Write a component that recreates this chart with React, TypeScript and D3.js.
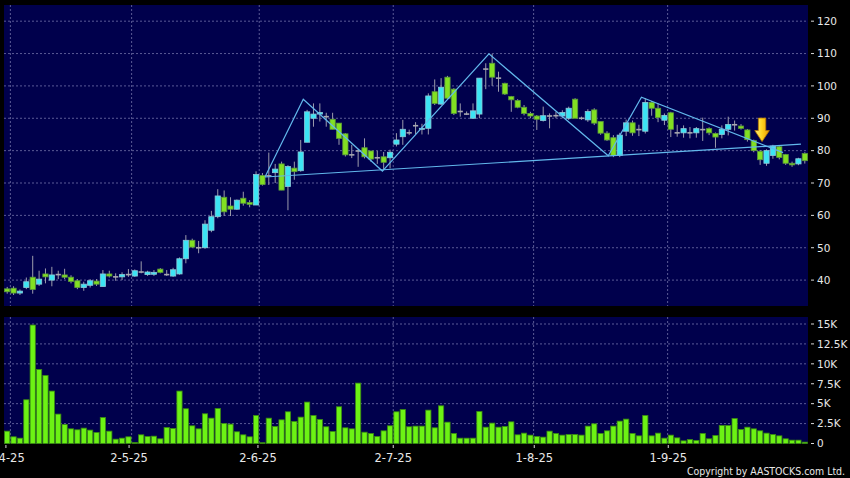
import React from 'react';
import * as d3 from 'd3';

const W = 850;
const H = 478;

// OHLC per trading day (1 .. 126)
const opens = [37.3,37.5,36.0,37.7,40.9,38.75,41.9,40.0,41.7,41.6,40.9,39.8,37.7,38.4,39.7,38.0,41.9,41.0,41.0,41.7,
  41.25,42.5,41.7,41.8,43.4,41.7,41.25,41.9,46.6,52.3,50.0,50.0,55.4,59.6,65.6,62.9,61.9,65.3,64.0,63.2,
  72.3,72.2,73.2,75.9,68.9,74.6,73.8,82.6,90.0,91.3,90.5,89.7,88.5,85.2,78.7,79.9,80.9,79.9,77.8,78.1,
  77.8,82.0,84.3,85.5,87.7,86.6,86.9,98.2,94.4,102.7,99.0,92.1,91.3,90.0,91.3,105.2,107.0,102.4,100.8,96.7,
  95.5,93.4,91.5,90.7,89.3,90.7,90.8,90.7,90.0,95.9,90.0,89.5,92.6,89.0,85.4,84.0,78.5,86.0,88.6,86.5,
  86.0,94.9,93.1,89.4,91.7,85.5,85.5,85.5,85.5,86.5,86.8,85.3,85.0,86.6,88.0,87.6,86.4,83.1,79.8,76.1,
  78.5,81.2,78.8,76.1,75.9,79.1];
const highs = [37.9,38.1,37.1,40.8,47.5,42.9,43.6,44.1,42.9,43.5,41.5,40.3,39.5,40.3,40.3,43.1,42.9,42.1,42.4,43.4,
  43.3,45.8,42.9,43.1,43.7,43.1,43.8,47.0,53.9,52.8,52.1,58.5,61.4,68.1,67.7,65.6,64.9,67.3,64.7,73.6,
  73.1,79.4,75.9,76.6,75.5,76.6,83.3,92.6,94.6,94.6,91.7,91.7,88.5,85.4,81.8,80.4,83.8,79.9,79.9,79.6,
  80.3,85.4,89.5,86.5,88.8,88.3,97.7,102.0,102.4,103.1,99.3,94.6,92.1,94.6,102.4,107.0,109.9,104.4,101.0,96.9,
  95.9,94.1,92.0,91.0,93.6,91.5,92.0,92.5,93.6,96.2,90.5,92.8,93.1,89.0,86.0,84.8,85.5,89.6,89.3,88.0,
  96.2,95.3,94.6,91.5,92.0,88.0,87.8,87.3,87.3,90.2,87.2,85.6,87.8,90.5,89.3,88.2,86.7,83.4,80.2,80.4,
  81.8,81.5,79.0,76.6,77.8,79.5];
const lows = [35.8,35.4,35.4,37.2,35.8,38.2,39.0,38.1,40.3,40.3,39.0,37.2,36.7,37.7,38.2,38.0,40.8,39.8,40.0,41.0,
  41.0,42.1,41.3,41.3,42.1,41.3,41.0,41.7,45.2,50.0,48.3,49.7,54.8,59.1,59.8,59.8,61.7,63.0,62.5,63.2,
  69.2,69.4,70.0,67.8,61.6,71.0,73.5,82.6,87.4,89.0,87.4,86.6,81.8,78.2,77.7,75.0,77.6,76.6,75.9,74.0,
  74.5,81.3,81.8,84.8,85.1,85.0,85.0,94.1,94.1,95.7,91.0,90.5,91.0,90.0,90.0,99.0,100.0,98.2,97.2,92.0,
  93.1,90.9,90.0,86.4,89.0,86.9,90.0,90.0,89.5,90.0,89.5,88.9,87.9,84.9,83.0,78.0,78.0,84.5,84.6,84.5,
  85.3,90.8,88.8,87.9,84.2,84.3,84.0,83.8,84.0,83.0,84.8,80.9,83.8,84.7,86.2,86.5,82.8,79.5,75.6,75.3,
  77.5,77.3,75.6,75.0,75.5,76.0];
const closes = [36.4,36.0,36.6,39.5,37.1,40.3,41.0,41.6,41.7,40.9,39.6,37.7,38.75,39.8,38.75,41.9,41.25,41.0,41.7,41.7,
  42.9,42.5,42.5,42.4,42.4,41.7,43.2,46.6,52.3,50.2,50.0,57.3,59.6,66.0,61.1,61.9,64.7,63.75,63.4,72.6,
  69.5,72.2,74.3,67.8,75.1,73.5,79.6,92.0,91.3,91.8,90.5,86.6,83.8,78.7,78.7,79.9,78.1,77.4,77.8,76.4,
  79.5,83.3,86.6,85.5,87.7,86.9,96.9,94.6,99.6,96.2,91.5,92.1,91.3,92.3,102.4,105.2,102.7,102.4,97.5,95.7,
  93.4,91.5,90.7,89.7,90.8,90.7,90.8,91.8,93.1,90.0,90.0,92.1,88.5,85.4,83.3,78.5,84.8,88.6,85.5,86.5,
  94.9,93.1,90.2,90.9,86.6,85.5,86.8,85.5,86.8,86.5,85.5,84.2,86.6,88.1,88.0,86.9,83.4,80.0,77.2,80.0,
  81.4,77.9,76.1,75.6,77.5,76.9];
const volumes = [1550,840,670,5490,14870,9300,8550,6580,3690,2390,1840,1720,1930,1680,1380,3270,1550,545,670,840,
  125,1090,880,920,590,2010,1890,6580,4360,2220,1840,3730,3180,4400,2510,2430,1470,1090,840,3520,
  100,3180,2140,2970,3980,2770,3310,5200,3520,3020,2100,1510,4610,1970,1840,7580,1420,1260,880,1590,
  2220,3980,4270,2100,2180,2180,4190,1970,4730,2680,1260,670,670,670,4020,2050,2560,2050,2140,2720,
  1090,1300,1050,880,800,1550,1260,1050,1130,1130,1050,2180,2470,1260,1590,2180,2810,3060,1260,960,
  3520,960,1300,670,1050,710,335,500,380,1260,590,1010,2260,2260,3140,1760,2050,1840,1590,1300,
  1130,960,590,420,420,170];

const priceTicks = [40, 50, 60, 70, 80, 90, 100, 110, 120];
const volTicks = [0, 2500, 5000, 7500, 10000, 12500, 15000];
const volTickLabels = ['0', '2.5K', '5K', '7.5K', '10K', '12.5K', '15K'];
const dateLabels = ['1-4-25', '2-5-25', '2-6-25', '2-7-25', '1-8-25', '1-9-25'];
const dateGridIdx = [1, 20, 40, 61, 83, 104];
const dateLabelIdx = [0.3, 19.6, 39.8, 61, 83.1, 104.1];

// head & shoulders pattern lines (candle index, price)
const zigIdx = [40.4, 46.4, 58.8, 75.5, 94.2, 99.4, 121.6];
const zigPrice = [71.85, 95.9, 73.7, 109.9, 78.4, 96.5, 79.4];
const neckIdx = [40.4, 124.4];
const neckPrice = [71.85, 82.0];
const arrowIdx = 118.3;
const arrowTipPrice = 82.8;

const N = opens.length;

export default function App() {
  React.useEffect(() => {
    document.body.style.margin = '0';
    document.body.style.background = '#000';
  }, []);

  const L = 4, R = 808;
  const x = d3.scaleLinear().domain([0, N]).range([L, R]);
  const step = x(1) - x(0);
  const cx = (i: number) => x(i + 0.5);
  const bw = step * 0.82;
  const y = d3.scaleLinear().domain([32, 125]).range([306, 5]);
  const yv = d3.scaleLinear().domain([0, 15000]).range([443.5, 324]);
  const topY0 = y(125), topY1 = y(32);
  const volTop = 317, volBot = yv(0);

  const line = d3.line<[number, number]>().x(d => cx(d[0])).y(d => y(d[1]));
  const zig = line(zigIdx.map((v, i) => [v, zigPrice[i]] as [number, number])) || '';
  const neck = line(neckIdx.map((v, i) => [v, neckPrice[i]] as [number, number])) || '';

  const ax = cx(arrowIdx);
  const at = y(arrowTipPrice);
  const arrowPath = `M${ax - 3.7},${at - 23.5} L${ax + 3.7},${at - 23.5} L${ax + 3.7},${at - 11} L${ax + 7.3},${at - 11} L${ax},${at} L${ax - 7.3},${at - 11} L${ax - 3.7},${at - 11} Z`;

  const gridColor = '#5a5a96';
  const font = 'DejaVu Sans, Verdana, sans-serif';

  return (
    <svg width={W} height={H} style={{ position: 'fixed', left: 0, top: 0, display: 'block' }}>
      <defs>
        <linearGradient id="arrowGrad" x1="0" y1="0" x2="1" y2="0">
          <stop offset="0" stopColor="#fff27a" />
          <stop offset="0.5" stopColor="#ffd21e" />
          <stop offset="1" stopColor="#e89a00" />
        </linearGradient>
        <clipPath id="topClip"><rect x={L} y={topY0} width={R - L} height={topY1 - topY0} /></clipPath>
      </defs>
      <rect x={0} y={0} width={W} height={H} fill="#000" />
      {/* panels */}
      <rect x={L} y={topY0} width={R - L} height={topY1 - topY0} fill="#00004c" />
      <rect x={L} y={volTop} width={R - L} height={volBot - volTop} fill="#00004c" />

      {/* grid */}
      {priceTicks.map(t => (
        <line key={'pg' + t} x1={L} x2={R} y1={y(t)} y2={y(t)} stroke={gridColor} strokeDasharray="2,2" strokeWidth={1} />
      ))}
      {volTicks.filter(t => t > 0).map(t => (
        <line key={'vg' + t} x1={L} x2={R} y1={yv(t)} y2={yv(t)} stroke={gridColor} strokeDasharray="2,2" strokeWidth={1} />
      ))}
      {dateGridIdx.map(i => (
        <g key={'dg' + i}>
          <line x1={x(i)} x2={x(i)} y1={topY0} y2={topY1} stroke={gridColor} strokeDasharray="2,2" strokeWidth={1} />
          <line x1={x(i)} x2={x(i)} y1={volTop} y2={volBot} stroke={gridColor} strokeDasharray="2,2" strokeWidth={1} />
        </g>
      ))}

      {/* candles */}
      <g clipPath="url(#topClip)">
        {opens.map((o, i) => {
          const c = closes[i], h = highs[i], l = lows[i];
          const xc = cx(i);
          const doji = Math.abs(c - o) < 0.05;
          const up = c > o;
          return (
            <g key={'c' + i}>
              <line x1={xc} x2={xc} y1={y(h)} y2={y(l)} stroke="#9c9cac" strokeWidth={1} />
              {doji ? (
                <line x1={xc - bw / 2} x2={xc + bw / 2} y1={y(o)} y2={y(o)} stroke="#a8a8b0" strokeWidth={1.6} />
              ) : (
                <rect x={xc - bw / 2} y={y(Math.max(o, c))} width={bw} height={Math.max(1, Math.abs(y(o) - y(c)))}
                  fill={up ? '#3ce4f4' : '#82e022'} stroke={up ? '#8cc8d8' : '#5a9a3a'} strokeWidth={0.8} />
              )}
            </g>
          );
        })}
        <path d={neck} fill="none" stroke="#62b8ec" strokeWidth={1.2} />
        <path d={zig} fill="none" stroke="#62b8ec" strokeWidth={1.2} />
        <path d={arrowPath} fill="url(#arrowGrad)" stroke="#b87a00" strokeWidth={0.8} />
      </g>

      {/* volume bars */}
      {volumes.map((v, i) => (
        <rect key={'v' + i} x={cx(i) - bw / 2} y={yv(v)} width={bw} height={Math.max(0.5, volBot - yv(v))}
          fill="#6cf214" stroke="#3a8a12" strokeWidth={0.8} />
      ))}

      {/* right axis */}
      {priceTicks.map(t => (
        <g key={'pt' + t}>
          <line x1={811} x2={814} y1={y(t)} y2={y(t)} stroke="#d8d8d8" strokeWidth={1} />
          <text x={817} y={y(t)} dy="0.36em" fill="#e8e8e8" fontSize={10.5} fontFamily={font}>{t}</text>
        </g>
      ))}
      {volTicks.map((t, k) => (
        <g key={'vt' + t}>
          <line x1={811} x2={814} y1={yv(t)} y2={yv(t)} stroke="#d8d8d8" strokeWidth={1} />
          <text x={817} y={yv(t)} dy="0.36em" fill="#e8e8e8" fontSize={10.5} fontFamily={font}>{volTickLabels[k]}</text>
        </g>
      ))}

      {/* bottom date axis */}
      {dateLabelIdx.map((i, k) => (
        <g key={'dl' + k}>
          <line x1={x(i)} x2={x(i)} y1={445} y2={448} stroke="#d8d8d8" strokeWidth={1} />
          <text x={x(i)} y={462} textAnchor="middle" fill="#e8e8e8" fontSize={11.5} fontFamily={font}>{dateLabels[k]}</text>
        </g>
      ))}

      <text x={845} y={475} textAnchor="end" fill="#e8e8e8" fontSize={11} fontFamily={font}
        textLength={158} lengthAdjust="spacingAndGlyphs">Copyright by AASTOCKS.com Ltd.</text>
    </svg>
  );
}
